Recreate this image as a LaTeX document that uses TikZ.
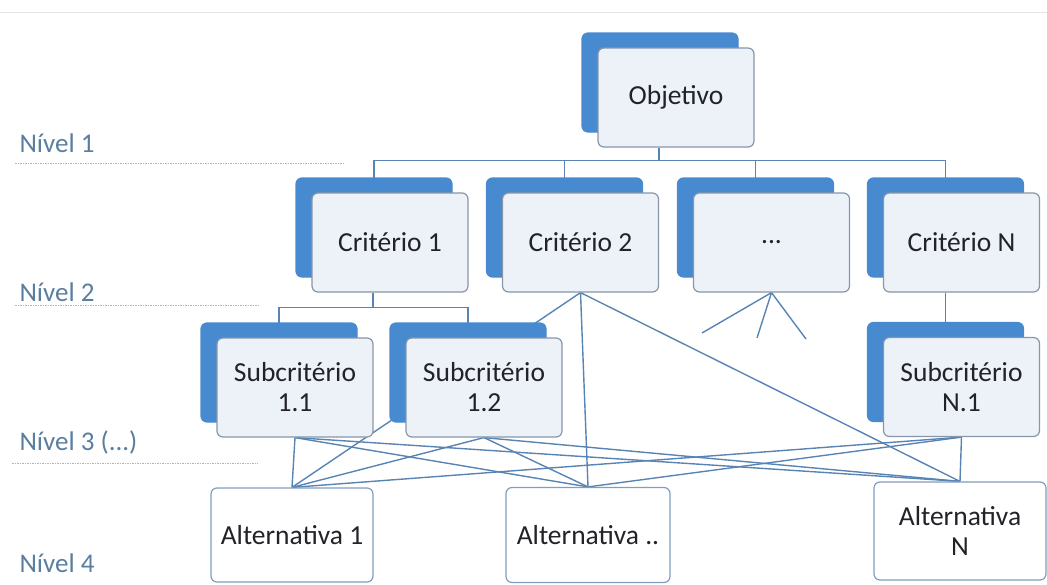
\documentclass[tikz,border=0pt]{standalone}
\usepackage{fontspec}
\setmainfont{Carlito}
\usetikzlibrary{positioning,shadows,backgrounds}

\definecolor{backblue}{RGB}{72,138,208}
\definecolor{frontfill}{RGB}{237,242,249}
\definecolor{frontline}{RGB}{135,150,168}
\definecolor{altline}{RGB}{128,158,190}
\definecolor{linkblue}{RGB}{88,132,180}
\definecolor{levelblue}{RGB}{90,126,160}
\definecolor{ruleclr}{RGB}{175,182,190}
\definecolor{boxtext}{RGB}{34,34,40}

\tikzset{
  box/.style={rectangle, rounded corners=6pt, draw=frontline, fill=frontfill,
    line width=1.2pt, minimum width=156pt, minimum height=99pt, align=center,
    text=boxtext, font=\fontsize{27.5}{30}\selectfont,
    copy shadow={shadow xshift=-16pt, shadow yshift=15pt, fill=backblue, draw=backblue}},
  altbox/.style={rectangle, rounded corners=6pt, draw=altline, fill=white,
    line width=1.2pt, align=center, text=boxtext, font=\fontsize{27.5}{30}\selectfont},
  link/.style={draw=linkblue, line width=1.4pt},
  levellabel/.style={anchor=west, text=levelblue, font=\fontsize{27}{30}\selectfont},
  levelrule/.style={draw=ruleclr, line width=1pt, dash pattern=on 1.5pt off 1pt},
}

\begin{document}
\begin{tikzpicture}[x=1pt,y=-1pt]
    \useasboundingbox (0,0) rectangle (1047,584);
    \draw[gray!20] (0,12) -- (1047,12);

    % levels
    \node[levellabel] (n1) at (16,143) {Nível 1};
    \node[levellabel] (n2) at (16,292) {Nível 2};
    \node[levellabel] (n3) at (16,442) {Nível 3 (...)};
    \node[levellabel] (n4) at (16,563) {Nível 4};
    \draw[levelrule] (15,163) -- (343,163);
    \draw[levelrule] (15,305) -- (260,305);
    \draw[levelrule] (12,463) -- (258,463);

    % boxes
    \node[box] (obj) at (676,97.5) {Objetivo};
    \node[box] (c1) at (390,242.5) {Critério 1};
    \node[box] (c2) at (580.5,242.5) {Critério 2};
    \node[box] (c3) at (771.5,242.5) {...};
    \node[box] (cn) at (961.5,242.5) {Critério N};
    \node[box] (s11) at (295,387.5) {Subcritério\\1.1};
    \node[box] (s12) at (484,387.5) {Subcritério\\1.2};
    \node[box] (sn) at (961.5,387) {Subcritério\\N.1};
    \node[altbox, minimum width=162pt, minimum height=94pt] (a1) at (292,535) {Alternativa 1};
    \node[altbox, minimum width=164pt, minimum height=95pt] (a2) at (588,535) {Alternativa ..};
    \node[altbox, minimum width=172pt, minimum height=98pt] (an) at (960,531) {Alternativa\\N};

    \coordinate (stub1) at (702,333);
    \coordinate (stub2) at (757,338);
    \coordinate (stub3) at (806,339);

    \begin{scope}[on background layer]
    \draw[link] ([xshift=-17pt]obj.south) -- ++(0,13) coordinate (bus1);
    \foreach \c in {c1,c2,c3,cn}
      \draw[link] (bus1) -| ([xshift=-16pt]\c.north);
    \draw[link] ([xshift=-17pt]c1.south) -- ++(0,15) coordinate (bus2);
    \foreach \s in {s11,s12}
      \draw[link] (bus2) -| ([xshift=-16pt]\s.north);
    \draw[link] ([xshift=-16pt]cn.south) -- ([xshift=-16pt]sn.north);
    \foreach \a in {a1,a2,an}
      \draw[link] (c2.south) -- (\a.north);
    \foreach \t in {stub1,stub2,stub3}
      \draw[link] (c3.south) -- (\t);
    \foreach \s in {s11,s12,sn}
      \foreach \a in {a1,a2,an}
        \draw[link] (\s.south) -- (\a.north);
    \end{scope}
\end{tikzpicture}
\end{document}
